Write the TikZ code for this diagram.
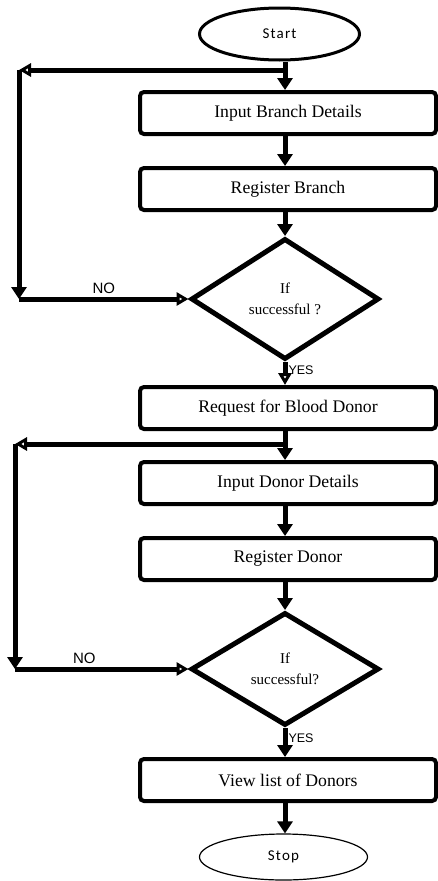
\documentclass[tikz,border=0pt]{standalone}
\usepackage{fontspec}
\setmainfont{Liberation Serif}
\newfontfamily\arialfont{Liberation Sans}
\newfontfamily\termfont[LetterSpace=8]{Carlito}
\usetikzlibrary{shapes.geometric,arrows.meta}

\begin{document}
\begin{tikzpicture}[
  x = 1pt, y = -1pt,
  line width = 5pt,
  process/.style = {rectangle, draw, rounded corners = 4pt,
    line width = 4pt, inner sep = 0pt,
    minimum width = 296pt, minimum height = 42pt,
    font = \fontsize{17.7}{20}\selectfont},
  decision/.style = {diamond, draw, line width = 5pt, inner sep = 0pt,
    minimum width = 188pt, align = center,
    font = \fontsize{15}{21}\selectfont},
  terminal/.style = {ellipse, draw, inner sep = 0pt,
    font = \termfont\fontsize{15}{18}\selectfont},
  answer/.style = {font = \arialfont\fontsize{15}{18}\selectfont},
  flow/.style = {-{Triangle[length = 12pt, width = 15pt]}},
  back/.style = {-{Triangle[open, length = 12pt, width = 13pt,
    line width = 3pt]}}
  ]

  \useasboundingbox (0, 0) rectangle (437, 881);

  % Nodes
  \node at (279.5,  34) [terminal, name = Start, line width = 3pt,
    minimum width = 160pt, minimum height = 52pt] {Start};
  \node at (288, 113) [process, name = In_B] {Input Branch Details};
  \node at (288, 189) [process, name = Reg_B] {Register Branch};
  \node at (285, 299) [decision, name = If_B,
    minimum height = 121pt] {If\\successful ?};

  \node at (288, 408) [process, name = Req_D] {Request for Blood Donor};
  \node at (288, 483) [process, name = In_D] {Input Donor Details};
  \node at (288, 559) [process, name = Reg_D] {Register Donor};
  \node at (285, 669) [decision, name = If_D,
    minimum height = 113pt] {If\\successful?};

  \node at (288, 780) [process, name = View_D] {View list of Donors};
  \node at (283.5, 857) [terminal, name = Stop, line width = 1.2pt,
    minimum width = 168pt, minimum height = 46pt] {Stop};

  % Junctions and loop corners
  \coordinate (J_B)  at (285,  70);
  \coordinate (L_Bt) at ( 19,  70);
  \coordinate (L_Bb) at (L_Bt |- If_B.west);
  \coordinate (J_D)  at (285, 444);
  \coordinate (L_Dt) at ( 15, 444);
  \coordinate (L_Db) at (L_Dt |- If_D.west);

  % Flow
  \draw (Start.south -| J_B) -- (J_B);
  \draw [flow] (J_B) -- (In_B.north -| J_B);
  \draw [flow] (In_B.south -| J_B) -- (Reg_B.north -| J_B);
  \draw [flow] (Reg_B.south -| J_B) -- (If_B.north);
  \draw [back] (If_B.south) -- (Req_D.north -| J_B)
    node [answer, right, pos = 0.35, inner sep = 1pt,
      font = \arialfont\fontsize{12.5}{15}\selectfont] {YES};

  \draw (Req_D.south -| J_D) -- (J_D);
  \draw [flow] (J_D) -- (In_D.north -| J_D);
  \draw [flow] (In_D.south -| J_D) -- (Reg_D.north -| J_D);
  \draw [flow] (Reg_D.south -| J_D) -- (If_D.north);
  \draw [flow] (If_D.south) -- (View_D.north -| J_D)
    node [answer, right, pos = 0.35, inner sep = 1pt,
      font = \arialfont\fontsize{12.5}{15}\selectfont] {YES};
  \draw [flow] (View_D.south -| J_D) -- (Stop.north -| J_D);

  % Loops back when not successful
  \draw [back] (J_B) -- (L_Bt);
  \draw [flow] (L_Bt) -- (L_Bb);
  \draw [back] (L_Bb) -- (If_B.west) node [answer, above, pos = 0.5] {NO};

  \draw [back] (J_D) -- (L_Dt);
  \draw [flow] (L_Dt) -- (L_Db);
  \draw [back] (L_Db) -- (If_D.west) node [answer, above, pos = 0.4] {NO};

\end{tikzpicture}
\end{document}
